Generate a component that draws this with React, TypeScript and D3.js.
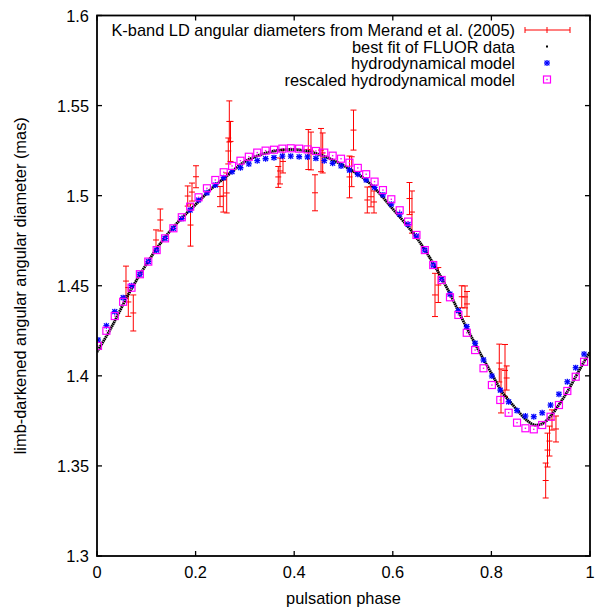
import React from "react";
import * as d3 from "d3";

// Best fit of FLUOR data (curve knots)
const fitPhase = [0.0, 0.03, 0.063, 0.097, 0.131, 0.165, 0.199, 0.233, 0.266, 0.3, 0.35, 0.4, 0.45, 0.5, 0.55, 0.6, 0.65, 0.7, 0.75, 0.777, 0.804, 0.821, 0.838, 0.855, 0.871, 0.888, 0.905, 0.922, 0.939, 0.956, 0.973, 0.99, 1.0];
const fitValue = [1.4132, 1.4273, 1.4449, 1.4606, 1.4744, 1.4856, 1.4948, 1.5041, 1.5115, 1.5189, 1.5242, 1.5256, 1.5229, 1.5167, 1.5076, 1.4926, 1.476, 1.4538, 1.4266, 1.4127, 1.3995, 1.3912, 1.3856, 1.3801, 1.3755, 1.3727, 1.3737, 1.3783, 1.3848, 1.3921, 1.4005, 1.4088, 1.4132];

// Hydrodynamical model phases
const modelPhase = [0.002, 0.019, 0.036, 0.053, 0.07, 0.087, 0.104, 0.121, 0.138, 0.155, 0.172, 0.189, 0.206, 0.223, 0.24, 0.257, 0.274, 0.291, 0.308, 0.325, 0.342, 0.359, 0.376, 0.393, 0.41, 0.427, 0.444, 0.461, 0.478, 0.495, 0.512, 0.529, 0.546, 0.563, 0.58, 0.597, 0.614, 0.631, 0.648, 0.665, 0.682, 0.699, 0.716, 0.733, 0.75, 0.767, 0.784, 0.801, 0.818, 0.835, 0.852, 0.869, 0.886, 0.903, 0.92, 0.937, 0.954, 0.971, 0.988];
const hydroValue = [1.4199, 1.4278, 1.4356, 1.4434, 1.45, 1.4564, 1.4634, 1.4698, 1.4763, 1.4819, 1.4873, 1.492, 1.4976, 1.5016, 1.5059, 1.51, 1.5133, 1.5155, 1.5176, 1.5194, 1.5205, 1.5211, 1.5219, 1.5219, 1.5216, 1.5215, 1.5207, 1.5194, 1.518, 1.5165, 1.5142, 1.5119, 1.5087, 1.5046, 1.5004, 1.4953, 1.4897, 1.4841, 1.4776, 1.4698, 1.4615, 1.4536, 1.4454, 1.4362, 1.4273, 1.4181, 1.4088, 1.3999, 1.3921, 1.3856, 1.3807, 1.3777, 1.3773, 1.3795, 1.3838, 1.3898, 1.3967, 1.4045, 1.4121];
const rescaledValue = [1.4166, 1.425, 1.4332, 1.4411, 1.4489, 1.4564, 1.4634, 1.4698, 1.4763, 1.4819, 1.488, 1.4939, 1.4991, 1.5041, 1.5087, 1.513, 1.5165, 1.5194, 1.5216, 1.5239, 1.525, 1.5255, 1.5261, 1.5263, 1.5261, 1.5257, 1.5248, 1.5239, 1.5222, 1.5205, 1.5183, 1.5154, 1.5119, 1.5078, 1.5031, 1.498, 1.4919, 1.4856, 1.4782, 1.4698, 1.4615, 1.4532, 1.4436, 1.4338, 1.4239, 1.4143, 1.4042, 1.3949, 1.3866, 1.3795, 1.374, 1.3709, 1.3703, 1.3727, 1.3773, 1.3838, 1.3916, 1.3995, 1.4078];

// K-band LD angular diameters (Merand et al. 2005)
const obsPhase = [0.0588, 0.0635, 0.0736, 0.1197, 0.1284, 0.184, 0.1897, 0.1927, 0.2008, 0.2495, 0.2562, 0.2631, 0.2663, 0.2684, 0.2708, 0.3677, 0.3712, 0.3773, 0.4286, 0.4341, 0.4422, 0.4544, 0.4578, 0.5122, 0.5166, 0.5203, 0.5483, 0.5558, 0.5619, 0.6339, 0.6389, 0.6856, 0.6923, 0.7398, 0.7465, 0.7505, 0.816, 0.8195, 0.8276, 0.831, 0.9101, 0.9138, 0.9178, 0.9229, 0.931];
const obsValue = [1.4526, 1.441, 1.4349, 1.4754, 1.4865, 1.4998, 1.4837, 1.502, 1.5105, 1.4995, 1.4998, 1.5015, 1.5248, 1.5412, 1.5301, 1.5104, 1.5137, 1.519, 1.5256, 1.5248, 1.5016, 1.5253, 1.5237, 1.5104, 1.5133, 1.5364, 1.4976, 1.4994, 1.4965, 1.4984, 1.4909, 1.4449, 1.4504, 1.4439, 1.4438, 1.4399, 1.4071, 1.3916, 1.403, 1.3988, 1.3419, 1.3588, 1.3638, 1.3755, 1.3705];
const obsError = [0.0083, 0.008, 0.01, 0.0056, 0.0061, 0.0056, 0.0117, 0.005, 0.0061, 0.0056, 0.0089, 0.0111, 0.0072, 0.0114, 0.0111, 0.0058, 0.0072, 0.0064, 0.0111, 0.0105, 0.01, 0.012, 0.0111, 0.0116, 0.0083, 0.0111, 0.0072, 0.0056, 0.0061, 0.0089, 0.0117, 0.012, 0.0097, 0.0061, 0.0061, 0.0069, 0.0105, 0.0122, 0.0144, 0.0067, 0.0097, 0.0094, 0.0083, 0.0056, 0.0072];

const xTicks = [0, 0.2, 0.4, 0.6, 0.8, 1];
const xTickLabels = ["0", "0.2", "0.4", "0.6", "0.8", "1"];
const yTicks = [1.3, 1.35, 1.4, 1.45, 1.5, 1.55, 1.6];
const yTickLabels = ["1.3", "1.35", "1.4", "1.45", "1.5", "1.55", "1.6"];

const legendLabels = [
  "K-band LD angular diameters from Merand et al. (2005)",
  "best fit of FLUOR data",
  "hydrodynamical model",
  "rescaled hydrodynamical model",
];

const FONT = "'Liberation Sans', Arial, Helvetica, sans-serif";
const FS = 16.4;
const RED = "#ff0000";
const BLUE = "#0000ff";
const MAGENTA = "#ff00ff";

function Asterisk({ cx, cy, r = 3 }: { cx: number; cy: number; r?: number }) {
  const d = r * 0.8;
  return (
    <g stroke={BLUE} strokeWidth={1.3}>
      <line x1={cx - r} y1={cy} x2={cx + r} y2={cy} />
      <line x1={cx} y1={cy - r} x2={cx} y2={cy + r} />
      <line x1={cx - d} y1={cy - d} x2={cx + d} y2={cy + d} />
      <line x1={cx - d} y1={cy + d} x2={cx + d} y2={cy - d} />
    </g>
  );
}

function Square({ cx, cy, h = 3.5 }: { cx: number; cy: number; h?: number }) {
  return (
    <g>
      <rect x={cx - h} y={cy - h} width={2 * h} height={2 * h} fill="none" stroke={MAGENTA} strokeWidth={1.2} />
      <rect x={cx - 0.7} y={cy - 0.7} width={1.4} height={1.4} fill={MAGENTA} />
    </g>
  );
}

function ErrBar({ x, y0, y1, yc, cap = 3 }: { x: number; y0: number; y1: number; yc: number; cap?: number }) {
  return (
    <g stroke={RED} strokeWidth={1}>
      <line x1={x} y1={y0} x2={x} y2={y1} />
      <line x1={x - cap} y1={y0} x2={x + cap} y2={y0} />
      <line x1={x - cap} y1={y1} x2={x + cap} y2={y1} />
      <line x1={x - cap} y1={yc} x2={x + cap} y2={yc} />
    </g>
  );
}

export default function App() {
  const W = 601;
  const H = 608;
  const left = 97, right = 590, top = 15.5, bottom = 556;
  const x = d3.scaleLinear().domain([0, 1]).range([left, right]);
  const y = d3.scaleLinear().domain([1.3, 1.6]).range([bottom, top]);

  const fitData = fitPhase.map((p, i) => [p, fitValue[i]] as [number, number]);
  const fitPath = d3
    .line<[number, number]>()
    .x((d) => x(d[0]))
    .y((d) => y(d[1]))
    .curve(d3.curveCatmullRom.alpha(0.5))(fitData) as string;

  const tickLen = 5;
  const legendX = 515;
  const legendSymX = 547;
  const legendRows = [30, 46.5, 63, 79.5];

  return (
    <svg width={W} height={H} style={{ position: "absolute", left: 0, top: 0, background: "#fff" }} fontFamily={FONT}>
      <rect x={0} y={0} width={W} height={H} fill="#fff" />
      <defs>
        <clipPath id="plotclip">
          <rect x={left} y={top} width={right - left} height={bottom - top} />
        </clipPath>
      </defs>

      <g clipPath="url(#plotclip)">
        {obsPhase.map((p, i) => (
          <ErrBar
            key={"e" + i}
            x={x(p)}
            y0={y(obsValue[i] + obsError[i])}
            y1={y(obsValue[i] - obsError[i])}
            yc={y(obsValue[i])}
          />
        ))}
        <path d={fitPath} fill="none" stroke="#000" strokeWidth={2.8} strokeDasharray="1.6 0.5" />
        {modelPhase.map((p, i) => (
          <Asterisk key={"h" + i} cx={x(p)} cy={y(hydroValue[i])} />
        ))}
        {modelPhase.map((p, i) => (
          <Square key={"s" + i} cx={x(p)} cy={y(rescaledValue[i])} />
        ))}
      </g>

      <rect x={left} y={top} width={right - left} height={bottom - top} fill="none" stroke="#000" strokeWidth={1.8} />

      <g stroke="#000" strokeWidth={1.3}>
        {xTicks.map((t, i) => (
          <g key={"xt" + i}>
            <line x1={x(t)} y1={bottom} x2={x(t)} y2={bottom - tickLen} />
            <line x1={x(t)} y1={top} x2={x(t)} y2={top + tickLen} />
          </g>
        ))}
        {yTicks.map((t, i) => (
          <g key={"yt" + i}>
            <line x1={left} y1={y(t)} x2={left + tickLen} y2={y(t)} />
            <line x1={right} y1={y(t)} x2={right - tickLen} y2={y(t)} />
          </g>
        ))}
      </g>

      <g fontSize={FS} fill="#000">
        {xTicks.map((t, i) => (
          <text key={"xl" + i} x={x(t)} y={578} textAnchor="middle">
            {xTickLabels[i]}
          </text>
        ))}
        {yTicks.map((t, i) => (
          <text key={"yl" + i} x={89} y={y(t) + 6} textAnchor="end">
            {yTickLabels[i]}
          </text>
        ))}
      </g>

      <text x={(left + right) / 2} y={604} textAnchor="middle" fontSize={FS}>
        pulsation phase
      </text>
      <text
        transform={`translate(26, ${(top + bottom) / 2}) rotate(-90)`}
        textAnchor="middle"
        fontSize={FS}
      >
        limb-darkened angular angular diameter (mas)
      </text>

      <g fontSize={FS}>
        {legendLabels.map((l, i) => (
          <text key={"lg" + i} x={legendX} y={legendRows[i] + 6} textAnchor="end">
            {l}
          </text>
        ))}
      </g>
      <g stroke={RED} strokeWidth={1}>
        <line x1={525} y1={legendRows[0]} x2={570} y2={legendRows[0]} />
        <line x1={525} y1={legendRows[0] - 3} x2={525} y2={legendRows[0] + 3} />
        <line x1={570} y1={legendRows[0] - 3} x2={570} y2={legendRows[0] + 3} />
        <line x1={legendSymX} y1={legendRows[0] - 3} x2={legendSymX} y2={legendRows[0] + 3} />
      </g>
      <rect x={legendSymX - 1} y={legendRows[1] - 1} width={2} height={2} fill="#000" />
      <Asterisk cx={legendSymX} cy={legendRows[2]} />
      <Square cx={legendSymX} cy={legendRows[3]} />
    </svg>
  );
}
